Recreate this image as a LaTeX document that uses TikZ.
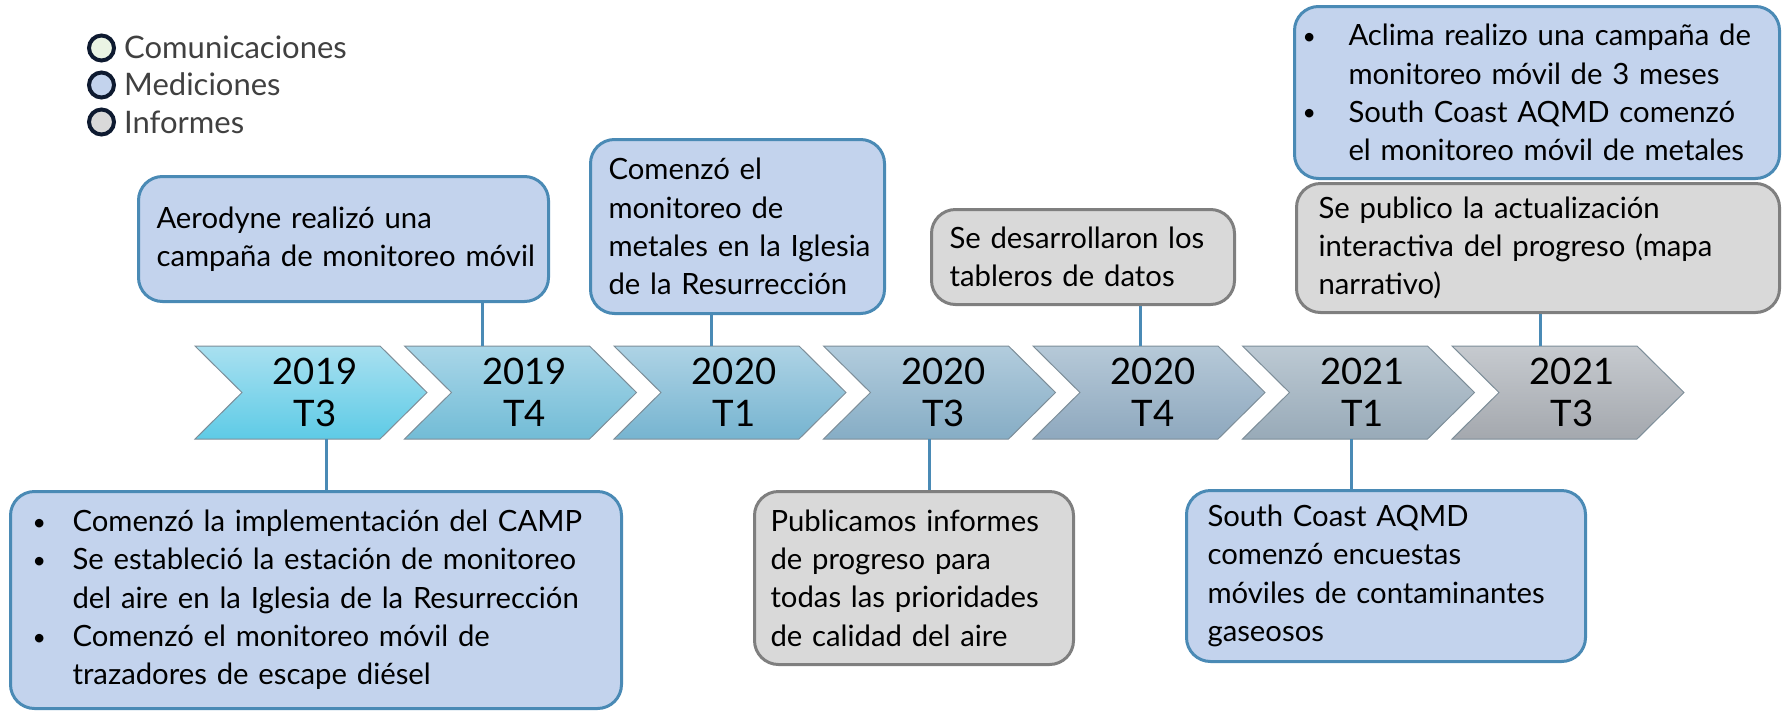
\documentclass[tikz,border=0pt]{standalone}
\usepackage{fontspec}
\setmainfont{Lato}
\definecolor{boxblue}{HTML}{4A8AB5}
\definecolor{fillblue}{HTML}{C3D3ED}
\definecolor{boxgray}{HTML}{7F7F7F}
\definecolor{fillgray}{HTML}{D9D9D9}
\definecolor{legtext}{HTML}{404040}
\definecolor{legring}{HTML}{0E1A30}
\definecolor{leggreen}{HTML}{EAF4E4}
\definecolor{chevline}{HTML}{7D8E99}
\definecolor{cA}{HTML}{A9E0F0}\definecolor{cAb}{HTML}{5ECBE6}
\definecolor{cB}{HTML}{A9D6E8}\definecolor{cBb}{HTML}{72BCD6}
\definecolor{cC}{HTML}{AED3E5}\definecolor{cCb}{HTML}{76B4D0}
\definecolor{cD}{HTML}{B2CCDD}\definecolor{cDb}{HTML}{86ADC5}
\definecolor{cE}{HTML}{B6C9D8}\definecolor{cEb}{HTML}{8EA8BE}
\definecolor{cF}{HTML}{BCC9D3}\definecolor{cFb}{HTML}{98AAB8}
\definecolor{cG}{HTML}{C6CACF}\definecolor{cGb}{HTML}{A4A8AE}
\newcommand\tlboxfont{\fontsize{29.3}{38.3}\selectfont}
\newcommand\tllegfont{\fontsize{31}{38}\selectfont}
\newcommand\tlchevfont{\fontsize{36.5}{42}\selectfont}
\newcommand\tlbul{\raisebox{1.5pt}{\fontsize{23}{23}\selectfont\textbullet}}
\newcommand\tlbitem[2]{\hangindent=#1\hangafter=1\noindent\makebox[#1][l]{\tlbul}#2\par}
\newcommand\tlL[1]{\mbox{#1}}
\begin{document}
\begin{tikzpicture}[x=1pt,y=-1pt,
  tlbox/.style={line width=3pt, rounded corners=24pt, inner xsep=18pt, inner ysep=0pt,
    align=left, font=\tlboxfont, anchor=north west},
  bluebox/.style={tlbox, draw=boxblue, fill=fillblue},
  graybox/.style={tlbox, draw=boxgray, fill=fillgray},
  conn/.style={draw=boxblue, line width=3pt},
  chevlabel/.style={font=\tlchevfont, align=center, inner sep=0pt},
  legdot/.style={circle, draw=legring, line width=4pt, minimum size=25pt, inner sep=0pt},
  legtxt/.style={font=\tllegfont, text=legtext, anchor=base west, inner sep=0pt}]
\useasboundingbox (0,0) rectangle (1783,710);

% legend
\node[legdot, fill=leggreen] (lg1) at (101.5,48) {};
\node[legdot, fill=fillblue] (lg2) at (101.5,85) {};
\node[legdot, fill=fillgray] (lg3) at (101.5,122) {};
\node[legtxt] (lt1) at (124,58) {Comunicaciones};
\node[legtxt] (lt2) at (124,95) {Mediciones};
\node[legtxt] (lt3) at (124,133) {Informes};

% chevrons
\foreach \L/\ct/\cb/\a/\b/\nm in {195/cA/cAb/2019/T3/k1, 404.5/cB/cBb/2019/T4/k2,
    614/cC/cCb/2020/T1/k3, 823.5/cD/cDb/2020/T3/k4, 1033/cE/cEb/2020/T4/k5,
    1242.5/cF/cFb/2021/T1/k6, 1452/cG/cGb/2021/T3/k7}{
  \path[draw=chevline, line width=1pt, top color=\ct, bottom color=\cb]
    (\L,346) -- ({\L+185},346) -- ({\L+232},392.5) -- ({\L+185},439)
    -- (\L,439) -- ({\L+47},392.5) -- cycle;
  \node[chevlabel] (\nm) at ({\L+120},392.5) {\a\\\b};
}

% boxes
\node[bluebox, text width=374pt, minimum height=125pt] (aero) at (137,175)
  {\tlL{Aerodyne realizó una}\\\tlL{campaña de monitoreo móvil}};
\node[bluebox, text width=258pt, minimum height=174pt] (metal) at (589,138)
  {\tlL{Comenzó el}\\\tlL{monitoreo de}\\\tlL{metales en la Iglesia}\\\tlL{de la Resurrección}};
\node[graybox, text width=267pt, minimum height=95pt] (tabl) at (930,208)
  {\tlL{Se desarrollaron los}\\\tlL{tableros de datos}};
\node[bluebox, inner xsep=8pt, text width=469pt, minimum height=172pt] (aclima) at (1293,5)
  {\tlbitem{46pt}{Aclima realizo una campaña de\newline monitoreo móvil de 3 meses}%
   \tlbitem{46pt}{South Coast AQMD comenzó\newline el monitoreo móvil de metales}};
\node[graybox, inner xsep=22pt, text width=439pt, minimum height=129pt] (mapa) at (1295,182)
  {\tlL{Se publico la actualización}\\\tlL{interactiva del progreso (mapa}\\\tlL{narrativo)}};
\node[bluebox, inner xsep=22pt, text width=567pt, minimum height=217pt] (camp) at (9,490)
  {\tlbitem{40pt}{Comenzó la implementación del CAMP}%
   \tlbitem{40pt}{Se estableció la estación de monitoreo\newline del aire en la Iglesia de la Resurrección}%
   \tlbitem{40pt}{Comenzó el monitoreo móvil de\newline trazadores de escape diésel}};
\node[graybox, inner xsep=16pt, text width=287pt, minimum height=173pt] (publ) at (753,490)
  {\tlL{Publicamos informes}\\\tlL{de progreso para}\\\tlL{todas las prioridades}\\\tlL{de calidad del aire}};
\node[bluebox, inner xsep=21pt, text width=357pt, minimum height=171pt] (south) at (1185,489)
  {\tlL{South Coast AQMD}\\\tlL{comenzó encuestas}\\\tlL{móviles de contaminantes}\\\tlL{gaseosos}};

% connectors
\coordinate (p1) at (326,439);
\coordinate (p2) at (482,346);
\coordinate (p3) at (711,346);
\coordinate (p4) at (929,439);
\coordinate (p5) at (1140,346);
\coordinate (p6) at (1351,439);
\coordinate (p7) at (1540,346);
\draw[conn] (p1) -- (p1 |- camp.north);
\draw[conn] (aero.south -| p2) -- (p2);
\draw[conn] (metal.south -| p3) -- (p3);
\draw[conn] (p4) -- (p4 |- publ.north);
\draw[conn] (tabl.south -| p5) -- (p5);
\draw[conn] (p6) -- (p6 |- south.north);
\draw[conn] (mapa.south -| p7) -- (p7);
\end{tikzpicture}
\end{document}
